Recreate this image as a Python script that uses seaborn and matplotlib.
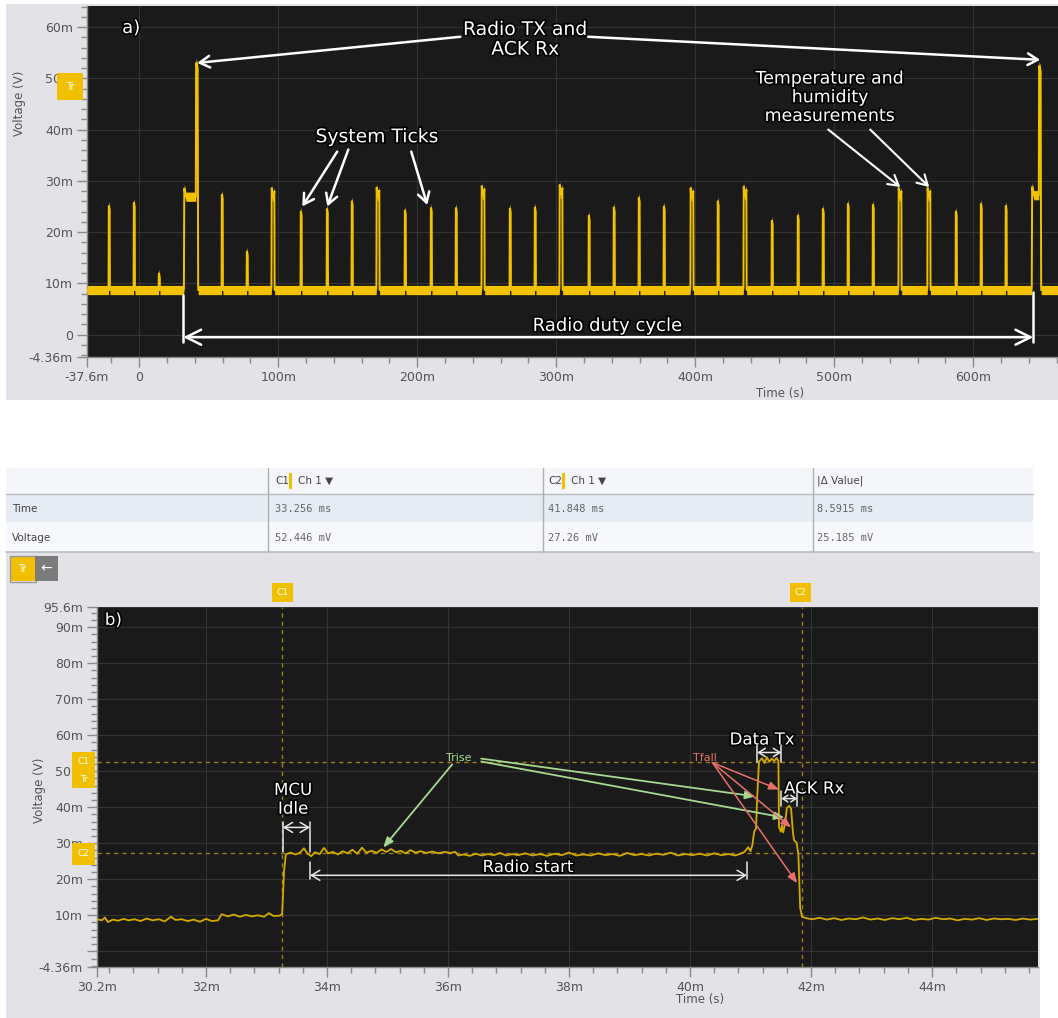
import matplotlib
matplotlib.use("Agg")
import numpy as np
import pandas as pd
import matplotlib.pyplot as plt
import matplotlib.patheffects as pe
from matplotlib.patches import Rectangle
from matplotlib.ticker import FixedLocator, FixedFormatter, MultipleLocator
import seaborn as sns

sns.set_theme(style="ticks")
plt.rcParams['font.family'] = ['DejaVu Sans']

# ---------------- panel a: full radio duty cycle ----------------
BASE_A = 8.7
tick_t = [-21.6, -3.6, 14.4, 59.7, 77.7, 116.5, 135.3, 153.2, 191.4, 210.1, 228.1,
          266.9, 284.9, 323.7, 341.7, 359.7, 377.7, 416.5, 455.4, 474.1, 492.1,
          510.1, 528.1, 587.8, 605.8, 623.7]
tick_v = [25.1, 25.7, 11.9, 27.3, 16.2, 24.0, 24.5, 26.0, 24.2, 24.7, 24.7,
          24.6, 24.8, 23.2, 24.8, 26.7, 25.0, 26.0, 22.2, 23.2, 24.5,
          25.5, 25.3, 24.0, 25.5, 25.1]
burst_t = [96.4, 171.9, 247.5, 303.6, 397.8, 436.0, 547.5, 568.3]
burst_v = [28.6, 28.7, 29.0, 29.2, 28.6, 28.9, 28.6, 28.6]
radio_on = [32.4, 642.4]
radio_tx = [40.9, 647.4]
radio_end = [42.4, 648.9]
radio_level = [26.9, 27.2]
tx_peak = [53.0, 52.4]
T_MIN_A, T_MAX_A = -37.6, 661.0

# ---------------- panel b: zoom on one radio transaction ----------------
tb = [30.20, 30.28, 30.33, 30.38, 30.46, 30.55, 30.64, 30.72, 30.82, 30.92, 31.02, 31.12,
      31.22, 31.32, 31.42, 31.50, 31.60, 31.70, 31.80, 31.90, 32.00, 32.10, 32.20, 32.26,
      32.36, 32.46, 32.56, 32.66, 32.76, 32.86, 32.96, 33.04, 33.12, 33.22, 33.26, 33.29,
      33.32, 33.40, 33.48, 33.55, 33.62, 33.68, 33.74, 33.80, 33.88, 33.95, 34.02, 34.10,
      34.18, 34.26, 34.34, 34.42, 34.50, 34.58, 34.65, 34.74, 34.82, 34.90, 34.98, 35.06,
      35.14, 35.22, 35.30, 35.38, 35.46, 35.55, 35.64, 35.74, 35.84, 35.94, 36.04, 36.12,
      36.17, 36.26, 36.36, 36.46, 36.56, 36.66, 36.76, 36.86, 36.96, 37.06, 37.16, 37.28,
      37.40, 37.52, 37.64, 37.76, 37.88, 38.00, 38.12, 38.24, 38.36, 38.48, 38.60, 38.72,
      38.84, 38.96, 39.08, 39.20, 39.32, 39.44, 39.56, 39.68, 39.80, 39.92, 40.04, 40.16,
      40.28, 40.40, 40.52, 40.64, 40.74, 40.82, 40.90, 40.96, 41.00, 41.03, 41.06, 41.09,
      41.11, 41.14, 41.19, 41.23, 41.27, 41.31, 41.35, 41.39, 41.43, 41.46, 41.47, 41.50,
      41.52, 41.54, 41.57, 41.60, 41.64, 41.67, 41.70, 41.72, 41.76, 41.79, 41.82, 41.85,
      41.92, 42.02, 42.14, 42.26, 42.38, 42.50, 42.62, 42.74, 42.86, 42.98, 43.10, 43.22,
      43.34, 43.46, 43.58, 43.70, 43.82, 43.94, 44.06, 44.18, 44.30, 44.42, 44.54, 44.66,
      44.78, 44.90, 45.02, 45.14, 45.26, 45.38, 45.50, 45.62, 45.75]
vb = [8.9, 8.6, 9.4, 8.1, 8.8, 8.5, 9.0, 8.6, 8.9, 8.4, 9.1, 8.6,
      8.9, 8.3, 9.6, 8.7, 8.9, 8.4, 8.8, 8.2, 9.0, 8.4, 8.6, 10.3,
      9.7, 10.2, 9.6, 10.1, 9.7, 10.0, 9.6, 10.6, 9.8, 9.9, 10.4, 22.0,
      26.9, 27.4, 26.9, 27.3, 28.6, 27.1, 26.4, 27.5, 27.0, 28.7, 27.2, 27.6,
      26.9, 27.8, 27.2, 28.2, 27.1, 28.8, 27.4, 27.9, 27.3, 28.3, 27.6, 28.4,
      27.5, 27.9, 27.2, 28.1, 27.4, 27.8, 27.3, 27.7, 27.2, 27.6, 27.3, 27.6,
      26.6, 26.9, 26.5, 27.1, 26.6, 27.0, 26.7, 27.3, 26.6, 27.0, 26.7, 27.2,
      26.6, 27.0, 26.5, 27.1, 26.7, 27.4, 26.6, 26.9, 26.6, 27.2, 26.7, 27.0,
      26.5, 27.3, 26.7, 27.0, 26.6, 27.1, 26.8, 27.4, 26.6, 27.0, 26.7, 27.1,
      26.6, 27.2, 26.7, 27.0, 26.6, 27.0, 27.6, 28.9, 27.8, 29.5, 33.3, 34.0,
      43.0, 52.7, 53.6, 52.3, 53.9, 52.6, 53.5, 52.8, 53.7, 52.9, 34.5, 33.2,
      35.0, 33.0, 35.5, 39.8, 40.4, 39.6, 33.0, 30.8, 30.2, 27.0, 12.0, 9.6,
      9.2, 8.9, 9.3, 8.8, 9.2, 8.7, 9.1, 8.9, 9.4, 8.8, 9.1, 8.7,
      9.2, 8.9, 9.3, 8.7, 9.0, 8.8, 9.3, 8.9, 9.1, 8.6, 9.0, 8.8,
      9.2, 8.7, 9.1, 8.9, 9.0, 8.7, 9.1, 8.8, 9.0]
C1_T, C2_T = 33.256, 41.848
C1_V, C2_V = 52.446, 27.26

# cursor readout table
row_labels = ['Time', 'Voltage']
c1_vals = ['33.256 ms', '52.446 mV']
c2_vals = ['41.848 ms', '27.26 mV']
delta_vals = ['8.5915 ms', '25.185 mV']

# tick positions / labels
xa_ticks = [-37.6, 0, 100, 200, 300, 400, 500, 600]
xa_labels = ['-37.6m', '0', '100m', '200m', '300m', '400m', '500m', '600m']
ya_ticks = [-4.36, 0, 10, 20, 30, 40, 50, 60]
ya_labels = ['-4.36m', '0', '10m', '20m', '30m', '40m', '50m', '60m']
xb_ticks = [30.2, 32, 34, 36, 38, 40, 42, 44]
xb_labels = ['30.2m', '32m', '34m', '36m', '38m', '40m', '42m', '44m']
yb_ticks = [-4.36, 0, 10, 20, 30, 40, 50, 60, 70, 80, 90, 95.6]
yb_labels = ['-4.36m', '', '10m', '20m', '30m', '40m', '50m', '60m', '70m', '80m', '90m', '95.6m']

# colours
PANEL = '#e2e2e7'
SCREEN = '#1a1a1a'
GRID = '#333333'
TRACE = '#f2c200'
TRACE_B = '#d4aa00'
TAG = '#f0c000'
CURSOR = '#9c7d1c'
LABEL = '#555555'
GREEN = '#a6d98f'
RED = '#e8716a'

W, H = 1058, 1018


def build_trace_a():
    events = []
    for t, v in zip(tick_t, tick_v):
        events.append([(t - 0.5, BASE_A), (t - 0.3, v), (t + 0.3, v - 0.8), (t + 0.5, BASE_A)])
    for t, v in zip(burst_t, burst_v):
        events.append([(t - 1.5, BASE_A), (t - 1.3, BASE_A + 0.6), (t - 1.1, v), (t - 0.6, v - 1.8),
                       (t + 0.4, v - 1.5), (t + 0.8, v - 0.6), (t + 1.0, BASE_A)])
    for on, tx, end, lvl, pk in zip(radio_on, radio_tx, radio_end, radio_level, tx_peak):
        events.append([(on - 0.5, BASE_A), (on - 0.3, BASE_A + 0.5), (on, lvl + 1.6), (on + 1.2, lvl),
                       (tx - 0.2, lvl), (tx, pk), (end - 0.4, pk - 1.0), (end, BASE_A)])
    events.sort(key=lambda e: e[0][0])
    pts = [(T_MIN_A, BASE_A)]
    for e in events:
        pts.extend(e)
    pts.append((T_MAX_A, BASE_A))
    return pd.DataFrame(pts, columns=['t', 'v'])


df_a = build_trace_a()
df_b = pd.DataFrame({'t': tb, 'v': vb})

fig = plt.figure(figsize=(W / 100, H / 100), dpi=100)
fig.patch.set_facecolor('white')

# background layer in pixel coordinates
bg = fig.add_axes([0, 0, 1, 1], zorder=0)
bg.set_xlim(0, W)
bg.set_ylim(H, 0)
bg.set_axis_off()
bg.add_patch(Rectangle((6, 4), W - 6, 396, color=PANEL, lw=0))
bg.add_patch(Rectangle((6, 552), 1034, H - 552, color=PANEL, lw=0))

# table
bg.add_patch(Rectangle((6, 468), 1027, 26, color='#f4f6f9', lw=0))
bg.add_patch(Rectangle((6, 494), 1027, 28, color='#e6ecf4', lw=0))
bg.add_patch(Rectangle((6, 522), 1027, 30, color='#f6f8fb', lw=0))
bg.plot([6, 1033], [494, 494], color='#b8bcc2', lw=1)
bg.plot([6, 1033], [552, 552], color='#b8bcc2', lw=1.2)
for xs in (268, 543, 813):
    bg.plot([xs, xs], [468, 552], color='#b0b0b0', lw=1)
tfont = dict(fontsize=7.5, color='#444444', va='center')
mono = dict(fontsize=7.5, color='#666666', va='center', family='DejaVu Sans Mono')
bg.text(275, 481, 'C1', **tfont)
bg.add_patch(Rectangle((289, 473), 3, 16, color=TAG, lw=0))
bg.text(298, 481, 'Ch 1 \u25BC', **tfont)
bg.text(548, 481, 'C2', **tfont)
bg.add_patch(Rectangle((562, 473), 3, 16, color=TAG, lw=0))
bg.text(571, 481, 'Ch 1 \u25BC', **tfont)
bg.text(817, 481, '|\u0394 Value|', **tfont)
for i, (lab, a, b, d) in enumerate(zip(row_labels, c1_vals, c2_vals, delta_vals)):
    yy = 509 + i * 29
    bg.text(12, yy, lab, **tfont)
    bg.text(275, yy, a, **mono)
    bg.text(548, yy, b, **mono)
    bg.text(817, yy, d, **mono)

# ---------------- plot axes ----------------
ax_a = fig.add_axes([87 / W, 1 - 357 / H, (W - 87) / W, 351 / H], zorder=2)
ax_b = fig.add_axes([97 / W, 1 - 967 / H, 941 / W, 360 / H], zorder=2)


def style_axes(ax, xt, xl, yt, yl, xminor, yminor):
    ax.set_facecolor(SCREEN)
    ax.xaxis.set_major_locator(FixedLocator(xt))
    ax.xaxis.set_major_formatter(FixedFormatter(xl))
    ax.yaxis.set_major_locator(FixedLocator(yt))
    ax.yaxis.set_major_formatter(FixedFormatter(yl))
    ax.xaxis.set_minor_locator(MultipleLocator(xminor))
    ax.yaxis.set_minor_locator(MultipleLocator(yminor))
    ax.tick_params(which='major', direction='out', length=7, width=1, color='#8a8a8a',
                   labelcolor=LABEL, labelsize=9, pad=3)
    ax.tick_params(which='minor', direction='out', length=4, width=1, color='#8a8a8a')
    ax.grid(True, which='major', color=GRID, lw=0.8)
    for s in ('top', 'right'):
        ax.spines[s].set_visible(False)
    for s in ('left', 'bottom'):
        ax.spines[s].set_color('#8a8a8a')
        ax.spines[s].set_linewidth(1)
    ax.set_xlabel('')
    ax.set_ylabel('')


# panel a trace: thick noisy band drawn as a filled envelope around the line
ax_a.fill_between(df_a['t'], df_a['v'] - 0.9, df_a['v'] + 0.9, color=TRACE, lw=0, zorder=3)
sns.lineplot(data=df_a, x='t', y='v', ax=ax_a, estimator=None, sort=False,
             color=TRACE, lw=1.4, legend=False, zorder=4)
ax_a.set_xlim(T_MIN_A, T_MAX_A)
ax_a.set_ylim(-4.36, 64.1)
style_axes(ax_a, xa_ticks, xa_labels, ya_ticks, ya_labels, 20, 2)

# panel b trace and cursors
for xc in (C1_T, C2_T):
    ax_b.axvline(xc, color=CURSOR, lw=1, ls=(0, (3, 3)), zorder=2)
for yc in (C1_V, C2_V):
    ax_b.axhline(yc, color=CURSOR, lw=1, ls=(0, (3, 3)), zorder=2)
sns.lineplot(data=df_b, x='t', y='v', ax=ax_b, estimator=None, sort=False,
             color=TRACE_B, lw=1.3, legend=False, zorder=4)
ax_b.set_xlim(30.2, 45.75)
ax_b.set_ylim(-4.36, 95.6)
style_axes(ax_b, xb_ticks, xb_labels, yb_ticks, yb_labels, 0.4, 2)

# ---------------- annotations ----------------
outline = [pe.withStroke(linewidth=2.5, foreground='black')]
ANN_FONT = 'DejaVu Sans'


def note(ax, x, y, s, size, color='white'):
    ax.text(x, y, s, color=color, fontsize=size, ha='center', va='center',
            family=ANN_FONT, path_effects=outline, zorder=6, linespacing=1.05)


def arrow(ax, tail, tip, color='white', lw=1.8, style='->', hl=0.6, hw=0.35):
    ax.annotate('', xy=tip, xytext=tail, zorder=6,
                arrowprops=dict(arrowstyle=f'{style},head_length={hl},head_width={hw}',
                                color=color, lw=lw, shrinkA=0, shrinkB=0))


note(ax_a, -5.8, 59.8, 'a)', 13)
note(ax_a, 277.7, 57.6, 'Radio TX and\nACK Rx', 13.5)
arrow(ax_a, (231, 58.1), (41.7, 53.0))
arrow(ax_a, (323, 58.1), (648.2, 53.6))
note(ax_a, 171.2, 38.6, 'System Ticks', 13.5)
arrow(ax_a, (142.4, 35.7), (117.3, 25.0))
arrow(ax_a, (150.4, 36.1), (135.3, 25.0))
arrow(ax_a, (195.7, 35.7), (207.2, 25.3))
note(ax_a, 497.1, 46.3, 'Temperature and\nhumidity\nmeasurements', 12.5)
arrow(ax_a, (495.7, 40.0), (547.5, 28.8), lw=1.5)
arrow(ax_a, (525.9, 40.0), (568.3, 28.8), lw=1.5)
note(ax_a, 336.7, 1.7, 'Radio duty cycle', 13)
arrow(ax_a, (31.7, -0.5), (643.2, -0.5), style='<->', lw=1.8, hl=0.9, hw=0.45)
ax_a.plot([31.7, 31.7], [7.8, -1.4], color='white', lw=1.8, zorder=6)
ax_a.plot([643.2, 643.2], [8.4, -1.4], color='white', lw=1.8, zorder=6)

note(ax_b, 30.47, 92.0, 'b)', 12)
note(ax_b, 33.44, 42.2, 'MCU\nIdle', 12)
arrow(ax_b, (33.27, 34.4), (33.72, 34.4), style='<->', lw=1.1, color='#e8e8e8', hl=0.5, hw=0.3)
for xv in (33.27, 33.72):
    ax_b.plot([xv, xv], [36.0, 27.5], color='#e8e8e8', lw=1.1, zorder=6)
note(ax_b, 37.32, 23.4, 'Radio start', 12)
arrow(ax_b, (33.72, 21.1), (40.94, 21.1), style='<->', lw=1.1, color='#e8e8e8', hl=0.5, hw=0.3)
for xv in (33.72, 40.94):
    ax_b.plot([xv, xv], [24.7, 20.0], color='#e8e8e8', lw=1.1, zorder=6)
note(ax_b, 41.19, 58.8, 'Data Tx', 12)
arrow(ax_b, (41.11, 55.2), (41.51, 55.2), style='<->', lw=1.1, color='#e8e8e8', hl=0.4, hw=0.25)
for xv in (41.11, 41.51):
    ax_b.plot([xv, xv], [57.3, 52.6], color='#e8e8e8', lw=1.1, zorder=6)
note(ax_b, 42.05, 45.2, 'ACK Rx', 12)
arrow(ax_b, (41.51, 42.4), (41.77, 42.4), style='<->', lw=1.1, color='#e8e8e8', hl=0.3, hw=0.2)
for xv in (41.51, 41.77):
    ax_b.plot([xv, xv], [44.4, 40.4], color='#e8e8e8', lw=1.1, zorder=6)

ax_b.text(36.18, 53.8, 'Trise', color=GREEN, fontsize=8, ha='center', va='center', family=ANN_FONT, zorder=6)
arrow(ax_b, (36.07, 51.9), (34.93, 28.8), color=GREEN, lw=1.3, style='-|>', hl=0.5, hw=0.2)
arrow(ax_b, (36.55, 53.5), (41.08, 43.0), color=GREEN, lw=1.3, style='-|>', hl=0.5, hw=0.2)
arrow(ax_b, (36.55, 52.7), (41.56, 37.1), color=GREEN, lw=1.3, style='-|>', hl=0.5, hw=0.2)
ax_b.text(40.25, 53.6, 'Tfall', color=RED, fontsize=8, ha='center', va='center', family=ANN_FONT, zorder=6)
arrow(ax_b, (40.37, 52.4), (41.47, 44.9), color=RED, lw=1.1, style='-|>', hl=0.5, hw=0.2)
arrow(ax_b, (40.37, 52.4), (41.67, 34.4), color=RED, lw=1.1, style='-|>', hl=0.5, hw=0.2)
arrow(ax_b, (40.37, 52.4), (41.77, 18.9), color=RED, lw=1.1, style='-|>', hl=0.5, hw=0.2)

# ---------------- foreground chrome: tags, buttons, axis titles ----------------
fg = fig.add_axes([0, 0, 1, 1], zorder=5)
fg.set_xlim(0, W)
fg.set_ylim(H, 0)
fg.set_axis_off()


def tag(x0, y0, w, h, lines, color=TAG, size=6.5):
    fg.add_patch(Rectangle((x0, y0), w, h, color=color, lw=0))
    n = len(lines)
    for i, s in enumerate(lines):
        fg.text(x0 + w / 2, y0 + h * (i + 0.5) / n, s, color='white', fontsize=size,
                ha='center', va='center')


tag(57, 73, 26, 27, ['Tr'], size=7)
tag(10, 556, 25, 25, ['Tr'], size=7)
fg.add_patch(Rectangle((9.5, 555.5), 26, 26, fill=False, ec='#9a9a9a', lw=1))
tag(35, 556, 23, 25, ['\u2190'], color='#7b7b7b', size=10)
tag(272, 583, 21, 19, ['C1'])
tag(790, 583, 21, 19, ['C2'])
tag(72, 752, 23, 36, ['C1', 'Tr'])
tag(72, 843, 23, 22, ['C2'])

fg.text(20, 103, 'Voltage (V)', rotation=90, color=LABEL, fontsize=8.5, ha='center', va='center')
fg.text(780, 393, 'Time (s)', color=LABEL, fontsize=8.5, ha='center', va='center')
fg.text(40, 790, 'Voltage (V)', rotation=90, color=LABEL, fontsize=8.5, ha='center', va='center')
fg.text(700, 1000, 'Time (s)', color=LABEL, fontsize=8.5, ha='center', va='center')

fig.savefig('out.png', dpi=100)
